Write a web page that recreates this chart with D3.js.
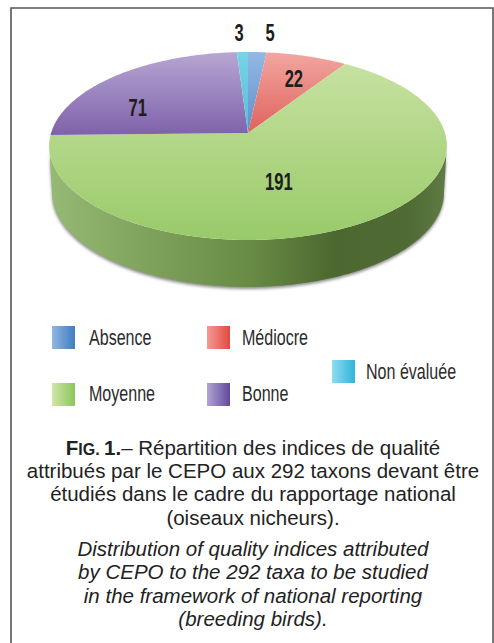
<!DOCTYPE html>
<html>
<head>
<meta charset="utf-8">
<script src="https://cdn.jsdelivr.net/npm/d3@7"></script>
<style>
  html, body { margin: 0; padding: 0; background: #fff; }
  svg { display: block; }
  .legend { font: 22px "Liberation Sans", sans-serif; fill: #2b2b2b; }
  .num { font: bold 23px "Liberation Sans", sans-serif; fill: #1d1d1b; text-anchor: middle; }
  .cap { font: 20.5px "Liberation Sans", sans-serif; fill: #222; text-anchor: middle; }
  .it { font-style: italic; }
</style>
</head>
<body>
<script>
const categories = ['Absence', 'Médiocre', 'Moyenne', 'Bonne', 'Non évaluée'];
const values = [5, 22, 191, 71, 3];
const captionFr = ['Répartition des indices de qualité',
  'attribués par le CEPO aux 292 taxons devant être',
  'étudiés dans le cadre du rapportage national',
  '(oiseaux nicheurs).'];
const captionEn = ['Distribution of quality indices attributed',
  'by CEPO to the 292 taxa to be studied',
  'in the framework of national reporting',
  '(breeding birds).'];

// top and bottom colour of each slice, then left and right of the legend box
const sliceColors = [['#93b9e4', '#5f8fcb'], ['#f2a6a0', '#e0625c'], ['#c6e1a0', '#99ca69'], ['#b7a6d2', '#7e62aa'], ['#79d3e6', '#55bfd8']];
const swatchColors = [['#8fb8e2', '#3f7cc0'], ['#f59a96', '#df4a40'], ['#cfe6a8', '#8cc65c'], ['#b5a3d0', '#5f4a9e'], ['#8fdcf0', '#2fb4da']];
const wallStops = [[0, '#96ba75'], [0.25, '#7ea25b'], [0.5, '#688c45'], [0.72, '#4c672f'], [0.9, '#4f6a33'], [1, '#5f7c44']];

// where each label sits on the disc: degrees clockwise from top, fraction of radius
const labelAngle = [5.9, 21.7, 163.6, -64, -2.4];
const labelRadius = [1.28, 0.685, 0.516, 0.647, 1.28];

// legend cells: column, row
const legendCell = [[0, 0], [1, 0], [0, 1], [1, 1], [2, 0.5]];

const w = 494, h = 643;
const apexX = 248, apexY = 133;
const rx = 197, ry = 92.2, persp = 0.138, depth = 47;
const narrow = 0.73; // no condensed font here, squeeze the glyphs
const narrowNum = 0.72;

// perspective view of the unit disc, the apex is not the centre of the ellipse
function project(a, r) {
  const u = r * Math.sin(a), v = r * Math.cos(a);
  const d = 1 + persp * v;
  return [apexX + rx * u / d, apexY - ry * v / d];
}

const svg = d3.select('body').append('svg').attr('width', w).attr('height', h);
const defs = svg.append('defs');

function grad(id, colors, horizontal) {
  defs.append('linearGradient').attr('id', id)
    .attr('x1', 0).attr('y1', 0)
    .attr('x2', horizontal ? 1 : 0).attr('y2', horizontal ? 0 : 1)
    .selectAll('stop').data(colors).enter().append('stop')
    .attr('offset', (d, i) => i / (colors.length - 1))
    .attr('stop-color', d => d);
}
sliceColors.forEach((c, i) => grad('slice' + i, c, false));
swatchColors.forEach((c, i) => grad('swatch' + i, c, true));
defs.append('linearGradient').attr('id', 'wall')
  .selectAll('stop').data(wallStops).enter().append('stop')
  .attr('offset', d => d[0]).attr('stop-color', d => d[1]);
defs.append('filter').attr('id', 'soft').attr('x', '-5%').attr('y', '-5%').attr('width', '110%').attr('height', '110%')
  .append('feGaussianBlur').attr('stdDeviation', 1.6);

// frame, open at the bottom
svg.append('path')
  .attr('d', d3.line()([[11, h], [11, 8], [493, 8], [493, h]]))
  .attr('fill', 'none').attr('stroke', '#555').attr('stroke-width', 1.6);

const line = d3.line();
const tau = Math.PI * 2;
const pie = d3.pie().sort(null).startAngle(0).endAngle(tau);
const arcs = pie(values);

// front wall: the part of the rim that faces the viewer
const front = d3.range(0, 361).map(i => i / 360 * tau).filter(a => Math.cos(a) <= -persp);
const topRim = front.map(a => project(a, 1));
const lowRim = front.map(a => {
  const p = project(a, 1);
  return [apexX + (p[0] - apexX) * 0.985, p[1] + depth];
}).reverse();

svg.append('path').attr('d', line(topRim.concat(lowRim)) + 'Z')
  .attr('transform', 'translate(0,2)')
  .attr('fill', '#333').attr('opacity', 0.55).attr('filter', 'url(#soft)');
svg.append('path').attr('d', line(topRim.concat(lowRim)) + 'Z')
  .attr('fill', 'url(#wall)');

svg.selectAll('path.slice').data(arcs).enter().append('path')
  .attr('class', 'slice')
  .attr('d', d => {
    const n = Math.max(4, Math.ceil((d.endAngle - d.startAngle) * 60));
    const pts = d3.range(n + 1).map(i => project(d.startAngle + (d.endAngle - d.startAngle) * i / n, 1));
    return line([[apexX, apexY]].concat(pts)) + 'Z';
  })
  .attr('fill', (d, i) => 'url(#slice' + i + ')');

svg.selectAll('text.num').data(values).enter().append('text')
  .attr('class', 'num')
  .attr('transform', (d, i) => {
    const p = project(labelAngle[i] * Math.PI / 180, labelRadius[i]);
    return 'translate(' + p[0] + ',' + p[1] + ') scale(' + narrowNum + ',1)';
  })
  .attr('dy', '0.36em')
  .text(d => d);

// legend
const colX = d3.scaleLinear().domain([0, 1]).range([52, 207]);
const rowY = d3.scaleLinear().domain([0, 1]).range([326, 383]);
const legend = svg.selectAll('g.item').data(categories).enter().append('g')
  .attr('class', 'item')
  .attr('transform', (d, i) => {
    const c = legendCell[i];
    return 'translate(' + (c[0] === 2 ? 332 : colX(c[0])) + ',' + (c[0] === 2 ? 360 : rowY(c[1])) + ')';
  });
legend.append('rect').attr('width', 23).attr('height', 23)
  .attr('fill', (d, i) => 'url(#swatch' + i + ')');
legend.append('text').attr('class', 'legend')
  .attr('transform', (d, i) => {
    const c = legendCell[i];
    const tx = c[0] === 2 ? 34 : (c[0] === 0 ? 37 : 35);
    return 'translate(' + tx + ',' + (c[1] === 1 ? 18 : 19) + ') scale(' + narrow + ',1)';
  })
  .text(d => d);

// caption
const fr = svg.append('g');
const first = fr.append('text').attr('class', 'cap').attr('x', 253).attr('y', 455);
first.append('tspan').attr('font-weight', 'bold').text('F');
first.append('tspan').attr('font-weight', 'bold').attr('font-size', 16).text('IG. ');
first.append('tspan').attr('font-weight', 'bold').text('1.');
first.append('tspan').text('– ' + captionFr[0]);
fr.selectAll('text.rest').data(captionFr.slice(1)).enter().append('text')
  .attr('class', 'cap rest').attr('x', 253)
  .attr('y', (d, i) => 478 + i * 23.4)
  .text(d => d);
svg.selectAll('text.it').data(captionEn).enter().append('text')
  .attr('class', 'cap it').attr('x', 253)
  .attr('y', (d, i) => 556 + i * 23.4)
  .text(d => d);
</script>
</body>
</html>
